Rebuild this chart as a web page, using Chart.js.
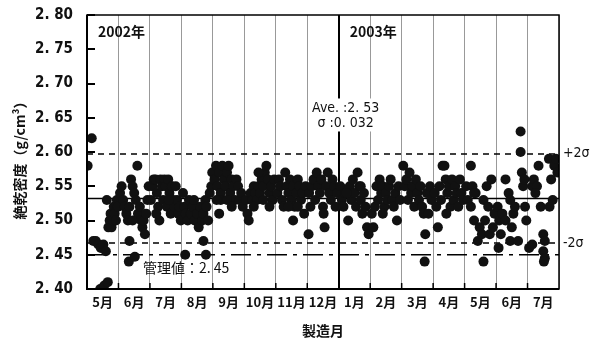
<!DOCTYPE html>
<html><head><meta charset="utf-8">
<script src="https://cdn.jsdelivr.net/npm/chart.js@4/dist/chart.umd.min.js"></script>
<style>html,body{margin:0;padding:0;background:#fff;}#wrap{width:597px;height:341px;}</style>
</head><body><div id="wrap"><canvas id="c" width="597" height="341"></canvas></div>
<script>
const MONTH_LABELS = ['5月','6月','7月','8月','9月','10月','11月','12月','1月','2月','3月','4月','5月','6月','7月'];
const Y_MIN = 2.40, Y_MAX = 2.80, Y_STEP = 0.05;
const AVE = 2.532, SIGMA = 0.0325, CONTROL = 2.45;
const YEAR_LABELS = ['2002年','2003年'];
const YEAR_START_INDEX = [0, 8];

// [position within month (0..1), density] for each production month
const M2002_05 = [[0.02,2.58],[0.15,2.62],[0.2,2.47],[0.28,2.47],[0.36,2.465],[0.44,2.46],[0.52,2.465],[0.6,2.455],[0.42,2.40],[0.55,2.405],[0.66,2.41],[0.63,2.53],[0.68,2.49],[0.72,2.50],[0.75,2.51],[0.78,2.49],[0.82,2.50],[0.85,2.52],[0.88,2.51],[0.92,2.50],[0.95,2.53],[0.98,2.52]];
const M2002_06 = [[0.05,2.54],[0.1,2.55],[0.15,2.53],[0.2,2.52],[0.25,2.51],[0.3,2.50],[0.35,2.52],[0.4,2.56],[0.45,2.55],[0.5,2.54],[0.55,2.53],[0.6,2.58],[0.62,2.51],[0.68,2.52],[0.72,2.50],[0.76,2.49],[0.8,2.50],[0.84,2.48],[0.88,2.51],[0.92,2.53],[0.96,2.55],[0.35,2.47],[0.33,2.44],[0.52,2.447],[0.45,2.50]];
const M2002_07 = [[0.03,2.53],[0.08,2.55],[0.12,2.56],[0.18,2.56],[0.22,2.54],[0.26,2.52],[0.3,2.50],[0.34,2.56],[0.38,2.55],[0.42,2.53],[0.46,2.56],[0.5,2.55],[0.54,2.52],[0.58,2.56],[0.62,2.54],[0.66,2.51],[0.7,2.55],[0.74,2.53],[0.78,2.52],[0.82,2.55],[0.86,2.53],[0.9,2.51],[0.94,2.52],[0.98,2.50],[0.2,2.51],[0.6,2.53]];
const M2002_08 = [[0.05,2.54],[0.1,2.52],[0.14,2.51],[0.2,2.50],[0.24,2.53],[0.3,2.51],[0.36,2.52],[0.42,2.50],[0.5,2.51],[0.55,2.49],[0.6,2.52],[0.66,2.50],[0.7,2.51],[0.76,2.53],[0.8,2.52],[0.85,2.50],[0.9,2.54],[0.95,2.55],[0.98,2.57],[0.12,2.45],[0.7,2.47],[0.78,2.45],[0.4,2.53]];
const M2002_09 = [[0.05,2.56],[0.1,2.58],[0.15,2.55],[0.2,2.57],[0.25,2.54],[0.3,2.58],[0.35,2.56],[0.4,2.55],[0.45,2.57],[0.5,2.58],[0.55,2.54],[0.6,2.56],[0.65,2.55],[0.7,2.53],[0.75,2.56],[0.8,2.55],[0.85,2.53],[0.9,2.54],[0.95,2.52],[0.2,2.51],[0.25,2.53],[0.45,2.53],[0.12,2.53],[0.6,2.52]];
const M2002_10 = [[0.05,2.53],[0.1,2.51],[0.14,2.50],[0.2,2.54],[0.25,2.53],[0.3,2.55],[0.35,2.54],[0.4,2.53],[0.45,2.55],[0.5,2.54],[0.55,2.56],[0.6,2.55],[0.65,2.57],[0.7,2.58],[0.75,2.56],[0.8,2.54],[0.85,2.55],[0.9,2.53],[0.95,2.56],[0.3,2.52],[0.6,2.53],[0.8,2.52],[0.45,2.57]];
const M2002_11 = [[0.05,2.54],[0.1,2.56],[0.15,2.55],[0.2,2.53],[0.25,2.52],[0.3,2.57],[0.35,2.55],[0.4,2.54],[0.45,2.56],[0.5,2.53],[0.55,2.55],[0.6,2.52],[0.65,2.54],[0.7,2.56],[0.75,2.55],[0.8,2.53],[0.85,2.54],[0.9,2.51],[0.95,2.55],[0.4,2.52],[0.55,2.50],[0.7,2.52]];
const M2002_12 = [[0.04,2.48],[0.06,2.54],[0.1,2.52],[0.15,2.55],[0.2,2.56],[0.25,2.53],[0.3,2.57],[0.35,2.55],[0.4,2.54],[0.45,2.56],[0.5,2.52],[0.52,2.51],[0.55,2.49],[0.6,2.55],[0.65,2.57],[0.7,2.54],[0.75,2.53],[0.8,2.56],[0.85,2.55],[0.9,2.52],[0.95,2.54]];
const M2003_01 = [[0.05,2.55],[0.1,2.53],[0.15,2.52],[0.2,2.54],[0.3,2.50],[0.35,2.55],[0.4,2.53],[0.45,2.56],[0.5,2.54],[0.55,2.52],[0.6,2.57],[0.65,2.55],[0.7,2.53],[0.75,2.51],[0.8,2.54],[0.85,2.52],[0.9,2.49],[0.95,2.48],[0.25,2.54],[0.7,2.55]];
const M2003_02 = [[0.05,2.51],[0.1,2.49],[0.15,2.52],[0.2,2.55],[0.25,2.53],[0.3,2.56],[0.35,2.54],[0.4,2.55],[0.45,2.52],[0.5,2.54],[0.55,2.53],[0.6,2.55],[0.65,2.56],[0.7,2.53],[0.75,2.52],[0.8,2.54],[0.85,2.50],[0.9,2.55],[0.95,2.53],[0.4,2.51]];
const M2003_03 = [[0.05,2.58],[0.1,2.55],[0.15,2.56],[0.2,2.53],[0.25,2.57],[0.3,2.54],[0.35,2.55],[0.4,2.52],[0.45,2.56],[0.5,2.54],[0.55,2.53],[0.6,2.55],[0.65,2.52],[0.7,2.51],[0.75,2.48],[0.73,2.44],[0.8,2.54],[0.85,2.51],[0.9,2.55],[0.95,2.53]];
const M2003_04 = [[0.05,2.54],[0.1,2.52],[0.15,2.49],[0.2,2.55],[0.25,2.53],[0.3,2.58],[0.36,2.58],[0.4,2.56],[0.45,2.54],[0.5,2.55],[0.55,2.52],[0.6,2.56],[0.65,2.53],[0.7,2.55],[0.75,2.54],[0.8,2.52],[0.85,2.56],[0.9,2.54],[0.95,2.53],[0.42,2.51]];
const M2003_05 = [[0.05,2.55],[0.1,2.53],[0.2,2.58],[0.2,2.52],[0.25,2.55],[0.3,2.50],[0.35,2.54],[0.42,2.47],[0.48,2.49],[0.6,2.44],[0.55,2.48],[0.6,2.53],[0.65,2.50],[0.7,2.55],[0.75,2.52],[0.8,2.48],[0.85,2.56],[0.9,2.49],[0.95,2.51],[0.3,2.54]];
const M2003_06 = [[0.05,2.52],[0.1,2.50],[0.08,2.46],[0.15,2.48],[0.2,2.51],[0.3,2.56],[0.45,2.47],[0.4,2.54],[0.45,2.53],[0.5,2.49],[0.55,2.51],[0.6,2.52],[0.78,2.63],[0.78,2.60],[0.82,2.57],[0.86,2.55],[0.9,2.56],[0.92,2.52],[0.96,2.50],[0.7,2.47],[0.3,2.50]];
const M2003_07 = [[0.05,2.46],[0.15,2.465],[0.15,2.55],[0.2,2.56],[0.3,2.55],[0.35,2.58],[0.42,2.52],[0.5,2.48],[0.55,2.47],[0.5,2.455],[0.55,2.445],[0.52,2.44],[0.68,2.59],[0.7,2.52],[0.75,2.56],[0.85,2.58],[0.9,2.59],[0.95,2.57],[0.8,2.53],[0.25,2.54]];
const MONTH_DATA = [M2002_05,M2002_06,M2002_07,M2002_08,M2002_09,M2002_10,M2002_11,M2002_12,M2003_01,M2003_02,M2003_03,M2003_04,M2003_05,M2003_06,M2003_07];

const points = [];
MONTH_DATA.forEach((arr, m) => arr.forEach(([f, v]) => points.push({x: m + f, y: v})));
const NM = MONTH_LABELS.length;
const hline = (v) => [{x: 0, y: v}, {x: NM, y: v}];

const CJK = '"Noto Sans CJK JP", "DejaVu Sans", sans-serif';
const NUM = '"DejaVu Sans Condensed", "Liberation Sans Narrow", "DejaVu Sans", sans-serif';

const deco = {
  id: 'deco',
  afterDatasetsDraw(chart) {
    const {ctx, chartArea: a, scales: {x, y}} = chart;
    ctx.save();
    ctx.strokeStyle = '#000';
    ctx.lineWidth = 1.5;
    ctx.strokeRect(a.left, a.top, a.right - a.left, a.bottom - a.top);
    ctx.lineWidth = 2;
    ctx.beginPath();
    ctx.moveTo(a.left, a.top); ctx.lineTo(a.left, a.bottom); ctx.lineTo(a.right, a.bottom);
    ctx.stroke();
    for (let v = Y_MIN; v <= Y_MAX + 1e-9; v += Y_STEP) {
      const py = Math.round(y.getPixelForValue(v));
      ctx.beginPath(); ctx.moveTo(a.left, py); ctx.lineTo(a.left + 8, py); ctx.stroke();
    }
    ctx.lineWidth = 1.5;
    for (let m = 1; m < NM; m++) {
      const px = x.getPixelForValue(m);
      ctx.beginPath(); ctx.moveTo(px, a.bottom); ctx.lineTo(px, a.bottom - 6); ctx.stroke();
    }
    const cx = x.getPixelForValue(YEAR_START_INDEX[1]) + 7;
    const ty = y.getPixelForValue(2.665);
    ctx.fillStyle = '#fff';
    ctx.fillRect(cx - 37, ty - 9, 74, 33);
    ctx.fillStyle = '#111';
    ctx.font = '14px ' + NUM;
    ctx.textAlign = 'center'; ctx.textBaseline = 'middle';
    ctx.fillText('Ave. :2. 53', cx, ty + 1);
    ctx.fillText('σ :0. 032', cx, ty + 16);
    ctx.font = 'bold 14px ' + CJK;
    ctx.textAlign = 'left';
    YEAR_LABELS.forEach((t, i) => ctx.fillText(t, x.getPixelForValue(YEAR_START_INDEX[i]) + 11, y.getPixelForValue(2.775)));
    ctx.font = '14px ' + CJK;
    ctx.fillText('管理値：2. 45', x.getPixelForValue(1.78), y.getPixelForValue(CONTROL) + 13);
    ctx.font = '14px ' + NUM;
    ctx.fillText('+2σ', a.right + 4, y.getPixelForValue(AVE + 2 * SIGMA) - 1);
    ctx.fillText('-2σ', a.right + 4, y.getPixelForValue(AVE - 2 * SIGMA));
    ctx.font = 'bold 14px ' + CJK;
    ctx.textAlign = 'center';
    ctx.fillText('製造月', (a.left + a.right) / 2, 331);
    ctx.save();
    ctx.translate(20, 157);
    ctx.rotate(-Math.PI / 2);
    ctx.fillText('絶乾密度（g/cm³）', 0, 0);
    ctx.restore();
    ctx.restore();
  }
};

new Chart(document.getElementById('c'), {
  type: 'scatter',
  data: {
    datasets: [
      {data: points, pointRadius: 5, pointHoverRadius: 5, backgroundColor: '#111', borderColor: '#111', borderWidth: 0},
      {data: hline(AVE), showLine: true, pointRadius: 0, borderColor: '#000', borderWidth: 1.5},
      {data: hline(AVE + 2 * SIGMA), showLine: true, pointRadius: 0, borderColor: '#000', borderWidth: 1.5, borderDash: [6, 5]},
      {data: hline(AVE - 2 * SIGMA), showLine: true, pointRadius: 0, borderColor: '#000', borderWidth: 1.5, borderDash: [6, 5]},
      {data: hline(CONTROL), showLine: true, pointRadius: 0, borderColor: '#000', borderWidth: 1.5, borderDash: [20, 6, 4, 6]}
    ]
  },
  options: {
    responsive: false,
    animation: false,
    layout: {padding: {left: 0, right: 38, top: 14, bottom: 0}},
    plugins: {legend: {display: false}, tooltip: {enabled: false}},
    scales: {
      x: {
        type: 'linear', min: 0, max: NM,
        afterBuildTicks: (s) => { s.ticks = MONTH_LABELS.concat(['']).map((_, i) => ({value: i})); },
        afterFit: (s) => { s.height = 52; },
        border: {display: false},
        grid: {
          drawTicks: false,
          color: (c) => (c.tick && c.tick.value === YEAR_START_INDEX[1]) ? '#000' : '#999',
          lineWidth: (c) => (c.tick && c.tick.value === YEAR_START_INDEX[1]) ? 2 : 1
        },
        ticks: {
          autoSkip: false, maxRotation: 0, padding: 5, labelOffset: 15.7,
          color: '#111', font: {family: CJK, size: 13, weight: 'bold'},
          callback: (v) => MONTH_LABELS[v] || ''
        }
      },
      y: {
        min: Y_MIN, max: Y_MAX,
        afterFit: (s) => { s.width = 87; },
        border: {display: false},
        grid: {display: false},
        ticks: {
          stepSize: Y_STEP, padding: 6, color: '#111',
          font: {family: NUM, size: 15, weight: 'bold'},
          callback: (v) => v.toFixed(2).replace('.', '. ')
        }
      }
    }
  },
  plugins: [deco]
});
</script></body></html>
